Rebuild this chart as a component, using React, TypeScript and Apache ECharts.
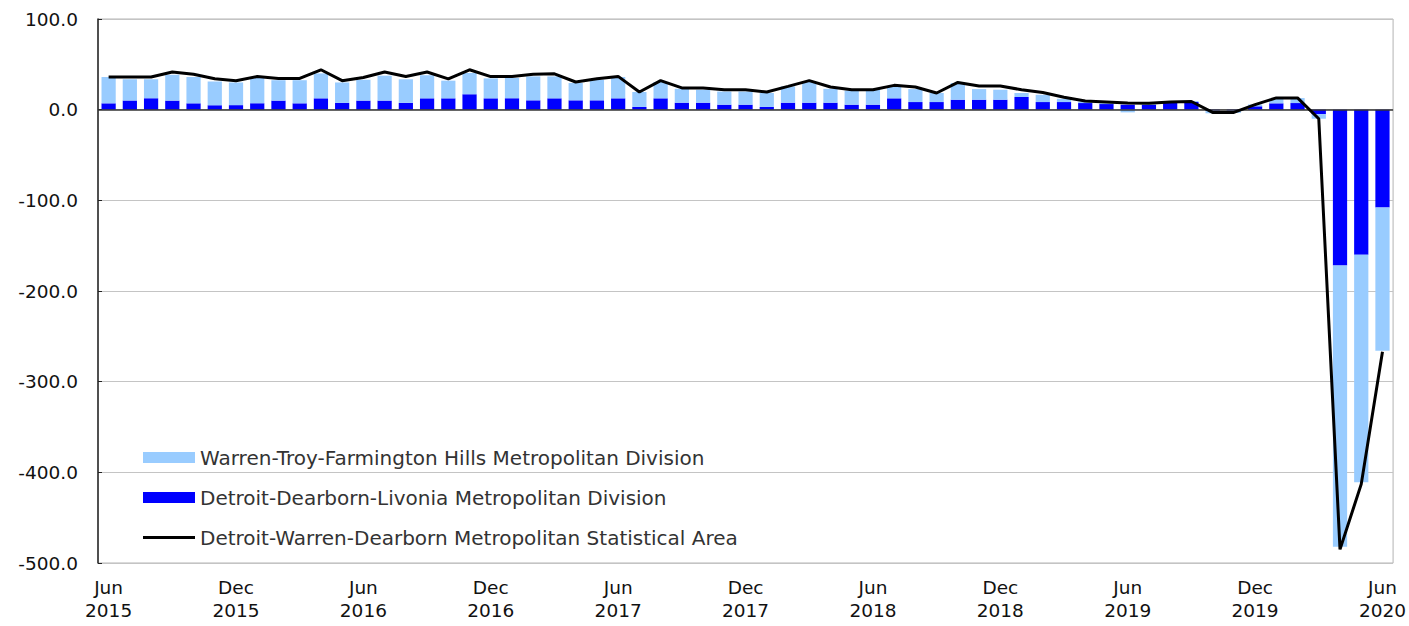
import React, { useEffect, useRef } from "react";
import * as echarts from "echarts";

const monthNames = ["Jan","Feb","Mar","Apr","May","Jun","Jul","Aug","Sep","Oct","Nov","Dec"];
// Jun 2015 .. Jun 2020 (61 months)
const categories: string[] = [];
for (let i = 0; i < 61; i++) {
  const m = (5 + i) % 12;
  const y = 2015 + Math.floor((5 + i) / 12);
  categories.push(monthNames[m] + "\n" + y);
}

const warrenName = "Warren-Troy-Farmington Hills Metropolitan Division";
const detroitName = "Detroit-Dearborn-Livonia Metropolitan Division";
const msaName = "Detroit-Warren-Dearborn Metropolitan Statistical Area";

const detroitValues = [
  7, 10, 12.5, 10, 7, 5, 5, 7, 10, 7,
  12.5, 7.5, 10, 10, 7.5, 12.5, 12.5, 17, 12.5, 12.5,
  10.3, 12.5, 10.3, 10.3, 12.5, 3, 12.5, 7.7, 7.7, 5.5,
  5.5, 3, 7.7, 7.7, 7.7, 5.5, 5.5, 12.5, 8.4, 8.4,
  11, 11, 11, 14, 8.4, 8.4, 7.3, 6.2, 5.5, 5.5,
  8, 8.5, -1, -1, 3.7, 7, 7.3, -5, -172, -160,
  -108,
];

const warrenValues = [
  29, 23.5, 21, 28.5, 29, 26, 25, 28, 22.5, 25.5,
  27.5, 22.5, 23, 27.5, 26, 25.5, 19.5, 23.5, 22, 22.5,
  26.4, 24.2, 19.1, 22.7, 23.5, 16.5, 18, 15.3, 14.3, 14.5,
  14.5, 15.4, 18, 22.8, 15.3, 15.5, 17, 12.5, 14.3, 10,
  18.4, 11.7, 11, 4.4, 8, 3.6, 1.5, 1, -3, 1,
  1, 1, -3, -2.5, 2, 5, 5.5, -5, -310, -251,
  -158,
];

const msaValues = [
  36, 36, 36, 41.5, 39, 34, 32, 36.5, 34.5, 34.5,
  44, 32, 35.5, 41.5, 36.5, 41.5, 34, 44, 36.5, 36.5,
  39, 39.5, 30.5, 34, 36.7, 19.5, 32, 24, 24, 22,
  22, 19.5, 25.7, 32, 25, 22, 22, 26.8, 25, 18.4,
  30, 26, 26, 22, 19, 13.6, 9.5, 8.4, 7.3, 7,
  8.4, 9, -3, -3, 5.5, 13, 13, -10, -485, -413,
  -267,
];

const yTicks = { min: -500, max: 100, interval: 100 };

export default function App() {
  const ref = useRef<HTMLDivElement>(null);
  useEffect(() => {
    if (!ref.current) return;
    const chart = echarts.init(ref.current, null, { renderer: "svg" });
    const font = "DejaVu Sans";
    chart.setOption({
      animation: false,
      backgroundColor: "#ffffff",
      grid: {
        left: 98,
        right: 14,
        top: 19,
        bottom: 63,
        show: true,
        borderColor: "#b4b4b4",
        borderWidth: 1,
      },
      legend: {
        orient: "vertical",
        left: 138,
        top: 442,
        itemWidth: 52,
        itemHeight: 11,
        itemGap: 19,
        symbolKeepAspect: true,
        textStyle: { fontFamily: font, fontSize: 20, color: "#333333", lineHeight: 21 },
        data: [
          { name: warrenName, icon: "rect" },
          { name: detroitName, icon: "rect" },
          { name: msaName, icon: "path://M0,0H52V3H0Z" },
        ],
      },
      xAxis: {
        type: "category",
        data: categories,
        axisLine: { show: false },
        axisTick: { show: false },
        axisLabel: {
          interval: 5,
          fontFamily: font,
          fontSize: 18.5,
          lineHeight: 23,
          color: "#111111",
          margin: 13,
        },
        splitLine: { show: false },
      },
      yAxis: {
        type: "value",
        min: yTicks.min,
        max: yTicks.max,
        interval: yTicks.interval,
        axisLine: { show: true, lineStyle: { color: "#222222", width: 1.5 } },
        axisTick: { show: true, inside: true, length: 4, lineStyle: { color: "#222222" } },
        axisLabel: {
          formatter: (v: number) => v.toFixed(1),
          fontFamily: font,
          fontSize: 18.5,
          color: "#111111",
          margin: 20,
        },
        splitLine: { show: true, lineStyle: { color: "#c4c4c4", width: 1 } },
      },
      series: [
        {
          name: detroitName,
          type: "bar",
          stack: "total",
          data: detroitValues,
          barCategoryGap: "33%",
          itemStyle: { color: "#0000ff" },
          markLine: {
            silent: true,
            symbol: "none",
            label: { show: false },
            lineStyle: { color: "#333333", type: "solid", width: 1.5 },
            data: [{ yAxis: 0 }],
            z: 4,
          },
        },
        {
          name: warrenName,
          type: "bar",
          stack: "total",
          data: warrenValues,
          barCategoryGap: "33%",
          itemStyle: { color: "#99ccff" },
        },
        {
          name: msaName,
          type: "line",
          data: msaValues,
          symbol: "none",
          lineStyle: { color: "#000000", width: 3 },
          itemStyle: { color: "#000000" },
          z: 5,
        },
      ],
    });
    return () => chart.dispose();
  }, []);
  return (
    <div
      ref={ref}
      style={{ position: "fixed", left: 0, top: 0, width: 1409, height: 626 }}
    />
  );
}
